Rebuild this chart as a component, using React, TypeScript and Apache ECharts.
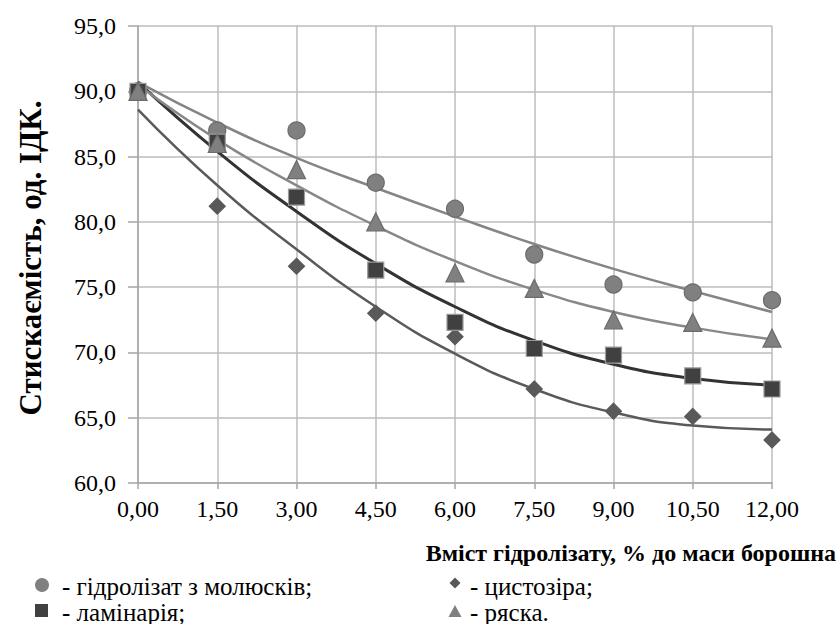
import React, { useEffect, useRef } from "react";
import * as echarts from "echarts";

const xValues = [0, 1.5, 3, 4.5, 6, 7.5, 9, 10.5, 12];
const molluscs = [90.0, 87.0, 87.0, 83.0, 81.0, 77.5, 75.2, 74.6, 74.0];
const laminaria = [90.0, 86.1, 81.9, 76.3, 72.3, 70.3, 69.8, 68.2, 67.2];
const cystoseira = [90.0, 81.2, 76.6, 73.0, 71.2, 67.2, 65.5, 65.1, 63.3];
const duckweed = [90.0, 86.0, 84.0, 80.0, 76.1, 74.9, 72.5, 72.3, 71.1];

const molluscsTrend = [90.7, 87.6, 84.9, 82.6, 80.4, 78.3, 76.4, 74.7, 73.1];
const laminariaTrend = [90.7, 85.4, 80.8, 76.8, 73.5, 70.9, 69.1, 68.0, 67.5];
const cystoseiraTrend = [88.6, 82.8, 77.9, 73.5, 69.9, 67.2, 65.4, 64.4, 64.1];
const duckweedTrend = [90.5, 86.3, 82.8, 79.7, 77.0, 74.8, 73.1, 71.9, 71.0];

const yTitle = "Стискаємість, од. ІДК.";
const xTitle = "Вміст гідролізату, % до маси борошна";
const legendLabels = [
  "- гідролізат з молюсків;",
  "- ламінарія;",
  "- цистозіра;",
  "- ряска.",
];

const FONT = "Liberation Serif, Times New Roman, serif";

const pairs = (ys: number[]) => xValues.map((x, i) => [x, ys[i]]);

export default function App() {
  const ref = useRef<HTMLDivElement>(null);
  useEffect(() => {
    if (!ref.current) return;
    const chart = echarts.init(ref.current, null, { renderer: "svg" });
    const trend = (name: string, ys: number[], color: string, width: number) => ({
      name,
      type: "line",
      data: pairs(ys),
      smooth: true,
      showSymbol: false,
      symbol: "none",
      lineStyle: { color, width },
      z: 2,
    });
    const scatter = (
      name: string,
      ys: number[],
      symbol: string,
      size: number,
      color: string,
      border: string,
      z: number
    ) => ({
      name,
      type: "scatter",
      data: pairs(ys),
      symbol,
      symbolSize: size,
      itemStyle: { color, borderColor: border, borderWidth: 1.2, opacity: 1 },
      z,
    });
    const textStyle = { fontFamily: FONT, fontSize: 25, fill: "#000" };
    chart.setOption({
      animation: false,
      backgroundColor: "#fff",
      textStyle: { fontFamily: FONT },
      grid: { left: 138, right: 66, top: 26, bottom: 141 },
      xAxis: {
        type: "value",
        min: 0,
        max: 12,
        interval: 1.5,
        axisLine: { show: true, lineStyle: { color: "#a6a6a6", width: 1.5 } },
        axisTick: { show: true, length: 6, lineStyle: { color: "#a6a6a6", width: 1.5 } },
        splitLine: { show: true, lineStyle: { color: "#bdbdbd", width: 1.5 } },
        axisLabel: {
          color: "#000",
          fontFamily: FONT,
          fontSize: 24,
          margin: 14,
          formatter: (v: number) => v.toFixed(2).replace(".", ","),
        },
      },
      yAxis: {
        type: "value",
        min: 60,
        max: 95,
        interval: 5,
        axisLine: { show: true, lineStyle: { color: "#a6a6a6", width: 1.5 } },
        axisTick: { show: true, length: 10, lineStyle: { color: "#a6a6a6", width: 1.5 } },
        splitLine: { show: true, lineStyle: { color: "#bdbdbd", width: 1.5 } },
        axisLabel: {
          color: "#000",
          fontFamily: FONT,
          fontSize: 24,
          margin: 22,
          formatter: (v: number) => v.toFixed(1).replace(".", ","),
        },
      },
      series: [
        trend("trend1", molluscsTrend, "#858585", 2.5),
        trend("trend3", cystoseiraTrend, "#5a5a5a", 2.5),
        trend("trend2", laminariaTrend, "#333333", 3),
        trend("trend4", duckweedTrend, "#888888", 2.5),
        scatter("гідролізат з молюсків", molluscs, "circle", 17, "#808080", "#6b6b6b", 3),
        scatter("цистозіра", cystoseira, "diamond", 16, "#595959", "#595959", 4),
        scatter("ламінарія", laminaria, "rect", 16, "#404040", "#9a9a9a", 5),
        scatter("ряска", duckweed, "triangle", 18, "#808080", "#6b6b6b", 6),
      ],
      graphic: [
        {
          type: "text",
          x: 836,
          y: 553,
          style: {
            text: xTitle,
            fontFamily: FONT,
            fontSize: 24,
            fontWeight: "bold",
            fill: "#000",
            align: "right",
            verticalAlign: "middle",
          },
        },
        {
          type: "text",
          x: 30,
          y: 258,
          rotation: Math.PI / 2,
          style: {
            text: yTitle,
            fontFamily: FONT,
            fontSize: 31,
            fontWeight: "bold",
            fill: "#000",
            align: "center",
            verticalAlign: "middle",
          },
        },
        { type: "circle", shape: { cx: 42, cy: 585, r: 7 }, style: { fill: "#808080" } },
        { type: "text", x: 62, y: 586, style: { ...textStyle, text: legendLabels[0], verticalAlign: "middle" } },
        { type: "rect", shape: { x: 35, y: 604, width: 13, height: 13 }, style: { fill: "#404040" } },
        { type: "text", x: 62, y: 612, style: { ...textStyle, text: legendLabels[1], verticalAlign: "middle" } },
        {
          type: "polygon",
          shape: { points: [[455, 577.5], [460.5, 583], [455, 588.5], [449.5, 583]] },
          style: { fill: "#595959" },
        },
        { type: "text", x: 470, y: 586, style: { ...textStyle, text: legendLabels[2], verticalAlign: "middle" } },
        {
          type: "polygon",
          shape: { points: [[455, 605], [461.5, 617], [448.5, 617]] },
          style: { fill: "#808080" },
        },
        { type: "text", x: 470, y: 612, style: { ...textStyle, text: legendLabels[3], verticalAlign: "middle" } },
      ],
    });
    return () => chart.dispose();
  }, []);
  return (
    <div
      ref={ref}
      style={{ position: "fixed", left: 0, top: 0, width: 838, height: 624 }}
    />
  );
}
